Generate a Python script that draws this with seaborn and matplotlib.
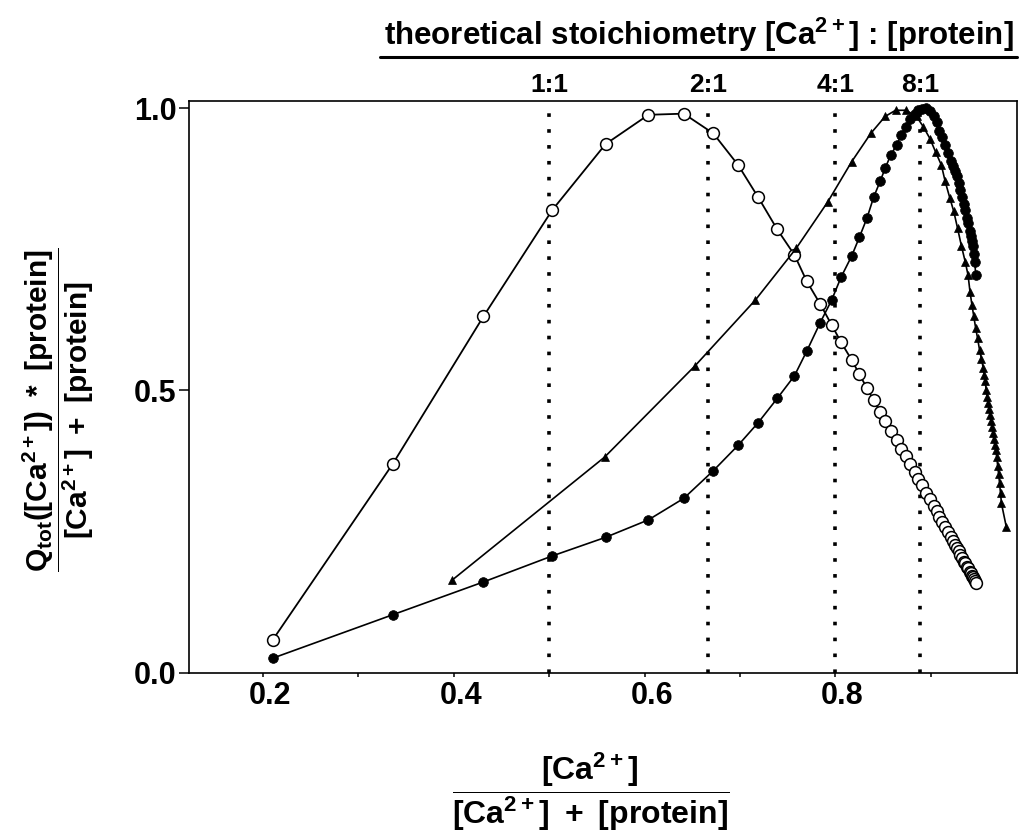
import matplotlib
matplotlib.use("Agg")
import matplotlib.pyplot as plt
import matplotlib.transforms as mtransforms
from matplotlib.lines import Line2D
import seaborn as sns

# ──────────────────────────────
# Data
# ──────────────────────────────
ratio_circles = [
    0.210, 0.336, 0.431, 0.503, 0.559, 0.604, 0.641, 0.672, 0.698, 0.719,
    0.739, 0.757, 0.770, 0.784, 0.796, 0.806, 0.817, 0.825, 0.833, 0.840,
    0.847, 0.852, 0.858, 0.864, 0.869, 0.874, 0.878, 0.883, 0.887, 0.891,
    0.895, 0.899, 0.903, 0.906, 0.909, 0.912, 0.915, 0.918, 0.921, 0.923,
    0.925, 0.927, 0.929, 0.931, 0.933, 0.935, 0.936, 0.938, 0.939, 0.941,
    0.942, 0.943, 0.944, 0.945, 0.946, 0.947,
]
open_circles = [
    0.058, 0.370, 0.631, 0.819, 0.936, 0.988, 0.990, 0.955, 0.899, 0.842,
    0.785, 0.740, 0.693, 0.653, 0.616, 0.585, 0.554, 0.529, 0.504, 0.483,
    0.462, 0.446, 0.429, 0.412, 0.397, 0.384, 0.370, 0.356, 0.344, 0.332,
    0.319, 0.307, 0.295, 0.286, 0.276, 0.267, 0.258, 0.249, 0.240, 0.234,
    0.227, 0.221, 0.215, 0.209, 0.203, 0.197, 0.194, 0.188, 0.185, 0.179,
    0.176, 0.172, 0.169, 0.166, 0.163, 0.160,
]
filled_circles = [
    0.026, 0.103, 0.161, 0.207, 0.240, 0.271, 0.309, 0.358, 0.403, 0.443,
    0.486, 0.526, 0.570, 0.620, 0.660, 0.701, 0.738, 0.771, 0.805, 0.842,
    0.871, 0.893, 0.917, 0.934, 0.952, 0.967, 0.980, 0.990, 0.996, 0.999,
    1.000, 0.995, 0.985, 0.975, 0.960, 0.948, 0.935, 0.920, 0.906, 0.897,
    0.889, 0.880, 0.868, 0.855, 0.843, 0.830, 0.820, 0.805, 0.797, 0.783,
    0.774, 0.764, 0.755, 0.742, 0.728, 0.705,
]
ratio_triangles = [
    0.398, 0.558, 0.653, 0.716, 0.759, 0.792, 0.817, 0.837, 0.852, 0.863,
    0.874, 0.885, 0.892, 0.899, 0.905, 0.911, 0.915, 0.920, 0.924, 0.928,
    0.932, 0.936, 0.939, 0.941, 0.943, 0.945, 0.947, 0.949, 0.951, 0.953,
    0.955, 0.956, 0.957, 0.958, 0.959, 0.960, 0.961, 0.962, 0.963, 0.964,
    0.965, 0.966, 0.967, 0.968, 0.969, 0.970, 0.971, 0.972, 0.973, 0.974,
    0.979,
]
triangles = [
    0.164, 0.382, 0.544, 0.660, 0.752, 0.834, 0.905, 0.955, 0.985, 0.996,
    0.996, 0.985, 0.967, 0.946, 0.922, 0.899, 0.870, 0.840, 0.817, 0.787,
    0.756, 0.728, 0.704, 0.675, 0.652, 0.631, 0.610, 0.592, 0.572, 0.556,
    0.539, 0.528, 0.516, 0.500, 0.489, 0.477, 0.467, 0.456, 0.446, 0.435,
    0.425, 0.414, 0.404, 0.394, 0.383, 0.367, 0.352, 0.336, 0.318, 0.300,
    0.259,
]
stoich_pos = [1 / 2, 2 / 3, 4 / 5, 8 / 9]
stoich_labels = ["1:1", "2:1", "4:1", "8:1"]
x_major = [0.2, 0.4, 0.6, 0.8]
x_minor = [0.3, 0.5, 0.7, 0.9]
y_major = [0.0, 0.5, 1.0]

# ──────────────────────────────
# Style
# ──────────────────────────────
sns.set_theme(style="ticks", rc={
    "text.color": "black", "axes.labelcolor": "black",
    "xtick.color": "black", "ytick.color": "black",
    "axes.edgecolor": "black",
})
plt.rcParams["font.family"] = ["Liberation Sans", "DejaVu Sans"]
plt.rcParams["font.weight"] = "bold"
plt.rcParams["mathtext.fontset"] = "custom"
for key in ["mathtext.rm", "mathtext.it", "mathtext.bf", "mathtext.sf"]:
    plt.rcParams[key] = "Liberation Sans:bold"
plt.rcParams["mathtext.default"] = "bf"
NARROW = ["Liberation Sans Narrow", "Liberation Sans", "DejaVu Sans"]

fig = plt.figure(figsize=(10.2, 8.32), dpi=100)
ax = fig.add_axes([0.1849, 0.1912, 0.8119, 0.6878])

# stoichiometry guide lines
for xv in stoich_pos:
    ax.axvline(xv, color="black", lw=2.6, linestyle=(0, (1.0, 3.4)), zorder=1)

# series
sns.lineplot(x=ratio_circles, y=open_circles, ax=ax, sort=False, estimator=None,
             color="black", linewidth=1.3, marker="o", markersize=8.5,
             markerfacecolor="white", markeredgecolor="black", markeredgewidth=1.1,
             zorder=3)
sns.lineplot(x=ratio_triangles, y=triangles, ax=ax, sort=False, estimator=None,
             color="black", linewidth=1.2, marker="^", markersize=6,
             markerfacecolor="black", markeredgecolor="black", markeredgewidth=0.5,
             zorder=4)
sns.lineplot(x=ratio_circles, y=filled_circles, ax=ax, sort=False, estimator=None,
             color="black", linewidth=1.2, marker="o", markersize=7,
             markerfacecolor="black", markeredgecolor="black", markeredgewidth=0.5,
             zorder=5)

# axes
ax.set_xlim(0.122, 0.990)
ax.set_ylim(0.0, 1.013)
ax.set_xticks(x_major)
ax.set_xticks(x_minor, minor=True)
ax.set_xticklabels([f"{v:.1f}" for v in x_major])
ax.set_yticks(y_major)
ax.set_yticklabels([f"{v:.1f}" for v in y_major])
ax.tick_params(axis="x", which="both", direction="out", length=3, width=1.1,
               pad=3, labelsize=22, color="black", labelcolor="black")
ax.tick_params(axis="y", which="both", direction="out", length=7, width=1.1,
               pad=1.5, labelsize=22, color="black", labelcolor="black")
for lab in ax.get_xticklabels() + ax.get_yticklabels():
    lab.set_fontweight("bold")
shift = mtransforms.ScaledTranslation(7 / 100, 0, fig.dpi_scale_trans)
for lab in ax.xaxis.get_majorticklabels():
    lab.set_transform(lab.get_transform() + shift)
for sp in ax.spines.values():
    sp.set_visible(True)
    sp.set_linewidth(1.2)
    sp.set_color("black")
ax.set_xlabel("")
ax.set_ylabel("")

# stoichiometry labels on top
trans = mtransforms.blended_transform_factory(ax.transData, ax.transAxes)
for xv, lab in zip(stoich_pos, stoich_labels):
    ax.text(xv, 1.016, lab, transform=trans, ha="center", va="baseline",
            fontsize=19, fontweight="bold", family=NARROW, color="black")

fig.add_artist(Line2D([380 / 1020, 1016.7 / 1020], [1 - 57 / 832, 1 - 57 / 832],
                      color="black", lw=2.2, transform=fig.transFigure))
fig.text(699 / 1020, 1 - 35 / 832,
         r"theoretical stoichiometry [Ca$^{2+}$] : [protein]",
         ha="center", va="center", fontsize=22.5, fontweight="bold",
         family=NARROW, color="black")

# axis labels as fractions
fig.text(591 / 1020, 1 - 792 / 832,
         r"$\dfrac{[Ca^{2+}]}{[Ca^{2+}]\ +\ [protein]}$",
         ha="center", va="center", fontsize=23, color="black")
fig.text(58 / 1020, 1 - 410 / 832,
         r"$\dfrac{Q_{tot}([Ca^{2+}])\ *\ [protein]}{[Ca^{2+}]\ +\ [protein]}$",
         ha="center", va="center", fontsize=21.5, rotation=90, color="black")

fig.savefig("out.png", dpi=100)
